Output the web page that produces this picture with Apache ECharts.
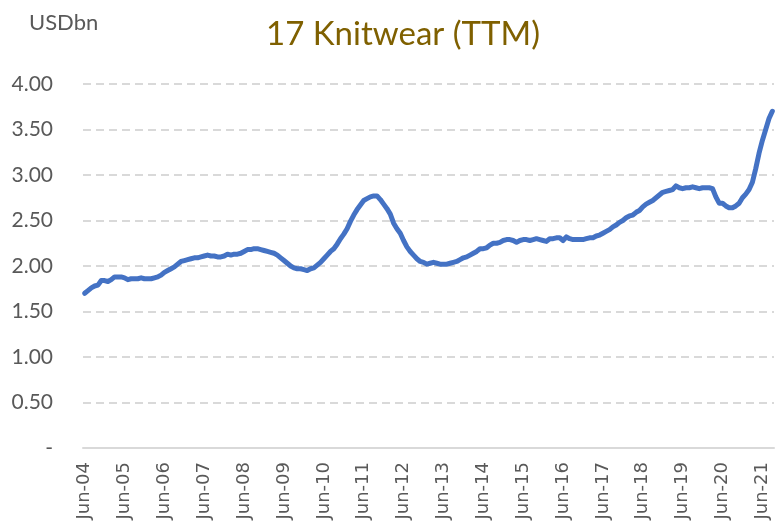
<!DOCTYPE html>
<html>
<head>
<meta charset="utf-8">
<script src="https://cdn.jsdelivr.net/npm/echarts@6/dist/echarts.min.js"></script>
<style>
	html, body { margin: 0; padding: 0; background: #fff; }
	#chart { width: 776px; height: 530px; }
</style>
</head>
<body>
<div id="chart"></div>
<script>
// monthly, Jun-04 .. Sep-21, USD bn trailing twelve months
var startYear = 2004;
var startMonth = 5; // June (0-based)
var monthNames = ['Jan', 'Feb', 'Mar', 'Apr', 'May', 'Jun', 'Jul', 'Aug', 'Sep', 'Oct', 'Nov', 'Dec'];

var knitwear = [
	1.70, 1.73, 1.76, 1.78, 1.79, 1.84, 1.84, 1.83, 1.85, 1.88, 1.88, 1.88,
	1.87, 1.85, 1.86, 1.86, 1.86, 1.87, 1.86, 1.86, 1.86, 1.87, 1.88, 1.90,
	1.93, 1.95, 1.97, 1.99, 2.02, 2.05, 2.06, 2.07, 2.08, 2.09, 2.09, 2.10,
	2.11, 2.12, 2.11, 2.11, 2.10, 2.10, 2.11, 2.13, 2.12, 2.13, 2.13, 2.14,
	2.16, 2.18, 2.18, 2.19, 2.19, 2.18, 2.17, 2.16, 2.15, 2.14, 2.12, 2.09,
	2.06, 2.03, 2.00, 1.98, 1.97, 1.97, 1.96, 1.95, 1.97, 1.98, 2.01, 2.04,
	2.08, 2.12, 2.16, 2.19, 2.24, 2.30, 2.35, 2.41, 2.49, 2.56, 2.62, 2.67,
	2.72, 2.74, 2.76, 2.77, 2.77, 2.73, 2.68, 2.63, 2.57, 2.47, 2.41, 2.36,
	2.28, 2.21, 2.16, 2.12, 2.08, 2.05, 2.04, 2.02, 2.03, 2.04, 2.03, 2.02,
	2.02, 2.02, 2.03, 2.04, 2.05, 2.07, 2.09, 2.10, 2.12, 2.14, 2.16, 2.19,
	2.19, 2.20, 2.23, 2.25, 2.25, 2.26, 2.28, 2.29, 2.29, 2.28, 2.26, 2.28,
	2.29, 2.29, 2.28, 2.29, 2.30, 2.29, 2.28, 2.27, 2.30, 2.30, 2.31, 2.31,
	2.28, 2.32, 2.30, 2.29, 2.29, 2.29, 2.29, 2.30, 2.31, 2.31, 2.33, 2.34,
	2.36, 2.38, 2.40, 2.43, 2.45, 2.48, 2.50, 2.53, 2.55, 2.56, 2.59, 2.61,
	2.65, 2.68, 2.70, 2.72, 2.75, 2.78, 2.81, 2.82, 2.83, 2.84, 2.88, 2.86,
	2.85, 2.86, 2.86, 2.87, 2.86, 2.85, 2.86, 2.86, 2.86, 2.85, 2.76, 2.69,
	2.69, 2.66, 2.64, 2.64, 2.66, 2.69, 2.75, 2.79, 2.84, 2.92, 3.07, 3.24,
	3.38, 3.50, 3.62, 3.70
];

var yTicks = [0, 0.5, 1, 1.5, 2, 2.5, 3, 3.5, 4];

// category labels like "Jun-04"
var months = [];
for (var i = 0; i < knitwear.length; i++) {
	var m = (startMonth + i) % 12;
	var y = startYear + Math.floor((startMonth + i) / 12);
	months.push(monthNames[m] + '-' + String(y % 100).padStart(2, '0'));
}

var chart = echarts.init(document.getElementById('chart'));

var option = {
	animation: false,
	backgroundColor: '#ffffff',
	title: [{
		text: '17 Knitwear (TTM)',
		left: 398,
		top: 13,
		textAlign: 'center',
		textStyle: {
			fontFamily: 'Lato',
			fontSize: 33,
			fontWeight: 'normal',
			color: '#7F6000'
		}
	}, {
		text: 'USDbn',
		left: 24,
		top: 7,
		textStyle: {
			fontFamily: 'Lato',
			fontSize: 22,
			fontWeight: 'normal',
			color: '#595959'
		}
	}],
	grid: {
		left: 83,
		right: 2,
		top: 84,
		bottom: 82
	},
	xAxis: {
		type: 'category',
		data: months,
		boundaryGap: true,
		axisLine: { show: true, lineStyle: { color: '#d9d9d9', width: 2 } },
		axisTick: { show: false },
		axisLabel: {
			interval: 11,
			rotate: 90,
			margin: 14,
			fontFamily: 'DejaVu Sans',
			fontSize: 18,
			color: '#595959'
		},
		splitLine: { show: false }
	},
	yAxis: {
		type: 'value',
		min: yTicks[0],
		max: yTicks[yTicks.length - 1],
		interval: 0.5,
		axisLine: { show: false },
		axisTick: { show: false },
		axisLabel: {
			margin: 30,
			fontFamily: 'Lato',
			fontSize: 21,
			color: '#595959',
			formatter: function(v) {
				return v === 0 ? '-' : v.toFixed(2);
			}
		},
		splitLine: {
			show: true,
			lineStyle: { color: '#d9d9d9', width: 2, type: [8, 5] }
		}
	},
	series: [{
		type: 'line',
		data: knitwear,
		showSymbol: false,
		symbol: 'none',
		lineStyle: { color: '#4472C4', width: 5, cap: 'round', join: 'round' }
	}]
};

chart.setOption(option);
</script>
</body>
</html>
